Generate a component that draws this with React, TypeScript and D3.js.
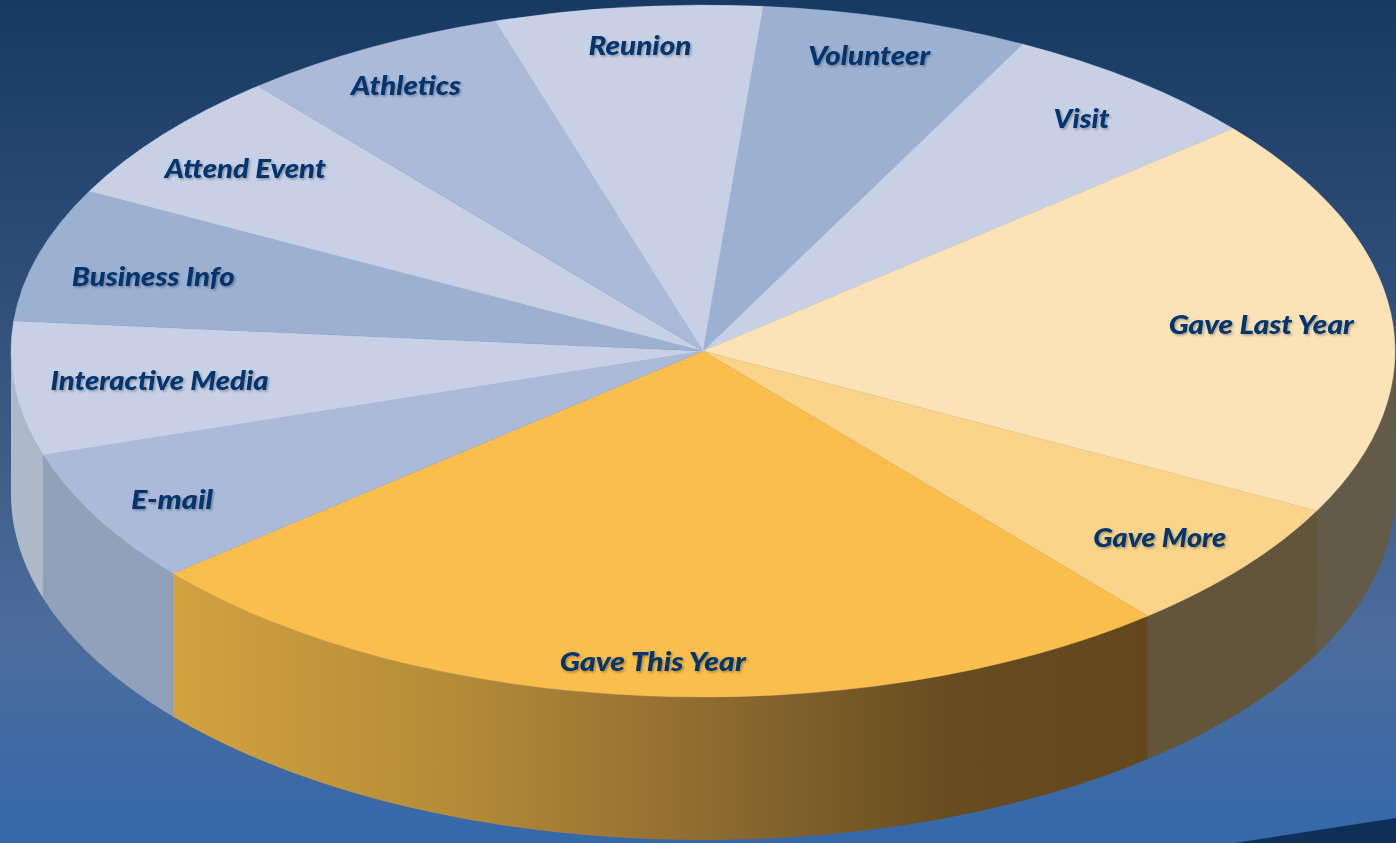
import React from "react";
import * as d3 from "d3";

const categories = ["Volunteer", "Visit", "Gave Last Year", "Gave More", "Gave This Year", "E-mail", "Interactive Media", "Business Info", "Attend Event", "Athletics", "Reunion"];
const shares = [1, 1, 3, 1, 4, 1, 1, 1, 1, 1, 1];

const topColors = ["#9cb0d2", "#c7d0e4", "#fbe3b7", "#fad48a", "#f9be4b", "#abbad8", "#c7d0e4", "#9cb0d2", "#c7d0e4", "#abbad8", "#c7d0e4"];
const wallColors = ["none", "none", "#635a47", "#635539", "url(#wallGold)", "#91a1b9", "#adb8c9", "none", "none", "none", "none"];
const labelRadius = [0.889, 0.867, 0.81, 0.85, 0.9, 0.88, 0.79, 0.82, 0.85, 0.88, 0.889];
const labelNudgeX = [-6, 3, 1, -2, 4, 3, 0, -5, 1, -4, 4];
const labelNudgeY = [-1, 0, 3, 1, -1, 1, -1, 4, 1, 0, -1];
const labelWidths = [122, 56, 185, 133, 186, 82, 218, 163, 161, 110, 103];

const W = 1396, H = 843;
const cx = 703, cy = 351, rx = 692, ry = 346, depth = 143;
const rad = (d: number) => (d * Math.PI) / 180;

export default function App() {
  const arcs = d3.pie<number>().sort(null).startAngle(rad(5)).endAngle(rad(365))(shares);
  const top = d3.arc<d3.PieArcDatum<number>>().innerRadius(0).outerRadius(rx);

  const wall = d3.area<number>()
    .x((a) => cx + rx * Math.sin(a))
    .y0((a) => cy - ry * Math.cos(a))
    .y1((a) => cy - ry * Math.cos(a) + depth);

  const wallPath = (s: number, e: number) => {
    const a0 = Math.max(s, Math.PI / 2), a1 = Math.min(e, (3 * Math.PI) / 2);
    if (a1 <= a0) return null;
    const n = 80;
    return wall(d3.range(n + 1).map((i) => a0 + ((a1 - a0) * i) / n));
  };

  return (
    <svg width={W} height={H} viewBox={`0 0 ${W} ${H}`} style={{ position: "absolute", left: 0, top: 0, display: "block" }}>
      <defs>
        <linearGradient id="bg" x1="0" y1="0" x2="0" y2="1">
          <stop offset="0" stopColor="#163a63" />
          <stop offset="0.4" stopColor="#33527d" />
          <stop offset="0.75" stopColor="#4c6d9c" />
          <stop offset="1" stopColor="#3568aa" />
        </linearGradient>
        <linearGradient id="wallGold" x1="0" y1="0" x2="1" y2="0">
          <stop offset="0" stopColor="#d3a240" />
          <stop offset="0.3" stopColor="#b48a38" />
          <stop offset="0.55" stopColor="#8e6b30" />
          <stop offset="0.8" stopColor="#664c20" />
          <stop offset="1" stopColor="#62481c" />
        </linearGradient>
        <filter id="labelShadow" x="-10%" y="-30%" width="120%" height="170%">
          <feDropShadow dx="1.5" dy="1.5" stdDeviation="1.3" floodColor="#000" floodOpacity="0.3" />
        </filter>
      </defs>
      <rect width={W} height={H} fill="url(#bg)" />
      <polygon points={`1235,${H} ${W},818 ${W},${H}`} fill="#0e3056" />
      {arcs.map((d, i) => {
        const p = wallPath(d.startAngle, d.endAngle);
        return p && wallColors[i] !== "none" ? <path key={i} d={p} fill={wallColors[i]} /> : null;
      })}
      <g transform={`translate(${cx},${cy}) scale(1,${ry / rx})`}>
        {arcs.map((d, i) => (
          <path key={i} d={top(d) as string} fill={topColors[i]} stroke={topColors[i]} strokeWidth={0.5} />
        ))}
      </g>
      {arcs.map((d, i) => {
        const mid = (d.startAngle + d.endAngle) / 2;
        const r = labelRadius[i];
        return (
          <text
            key={i}
            x={cx + rx * r * Math.sin(mid) + labelNudgeX[i]}
            y={cy - ry * r * Math.cos(mid) + labelNudgeY[i]}
            textAnchor="middle"
            dominantBaseline="central"
            fontFamily="Lato, 'Open Sans', sans-serif"
            fontWeight={900}
            fontStyle="italic"
            fontSize={27}
            fill="#03346f"
            filter="url(#labelShadow)"
            textLength={labelWidths[i]}
            lengthAdjust="spacingAndGlyphs"
          >
            {categories[i]}
          </text>
        );
      })}
    </svg>
  );
}
